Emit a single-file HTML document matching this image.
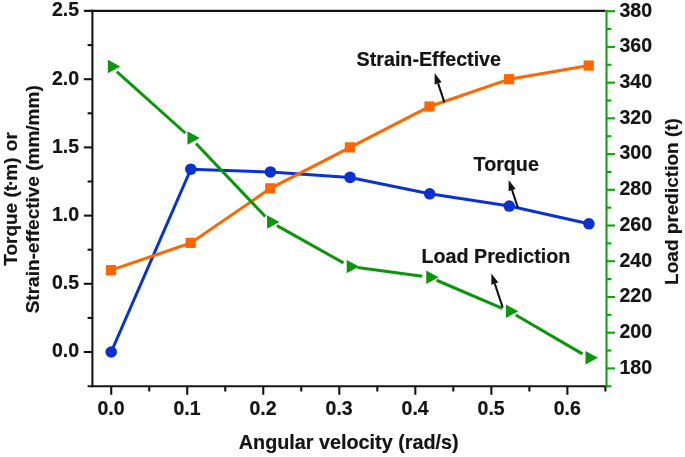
<!DOCTYPE html>
<html><head><meta charset="utf-8"><title>Chart</title>
<style>html,body{margin:0;padding:0;background:#fff;overflow:hidden}svg{display:block;will-change:transform}</style></head>
<body>
<svg width="685" height="457" viewBox="0 0 685 457" font-family="'Liberation Sans', sans-serif" font-weight="bold" font-size="19.5px">
<rect width="685" height="457" fill="#fff"/>
<g stroke="#141414" stroke-width="2.1" fill="none" stroke-linecap="butt">
<path d="M92.4 9.85 V387.25"/>
<path d="M83.8 10.9 H605.45"/>
<path d="M87.6 386.2 H607.55"/>
<path d="M83.8 352.00 H92.4"/>
<path d="M83.8 283.80 H92.4"/>
<path d="M83.8 215.60 H92.4"/>
<path d="M83.8 147.40 H92.4"/>
<path d="M83.8 79.20 H92.4"/>
<path d="M87.6 317.90 H92.4"/>
<path d="M87.6 249.70 H92.4"/>
<path d="M87.6 181.50 H92.4"/>
<path d="M87.6 113.30 H92.4"/>
<path d="M87.6 45.10 H92.4"/>
<path d="M111.20 386.2 V394.8"/>
<path d="M187.23 386.2 V394.8"/>
<path d="M263.26 386.2 V394.8"/>
<path d="M339.29 386.2 V394.8"/>
<path d="M415.32 386.2 V394.8"/>
<path d="M491.35 386.2 V394.8"/>
<path d="M567.38 386.2 V394.8"/>
<path d="M149.22 386.2 V391.5"/>
<path d="M225.25 386.2 V391.5"/>
<path d="M301.27 386.2 V391.5"/>
<path d="M377.30 386.2 V391.5"/>
<path d="M453.33 386.2 V391.5"/>
<path d="M529.37 386.2 V391.5"/>
<path d="M605.39 386.2 V391.5"/>
</g>
<g stroke="#10a010" stroke-width="2.1" fill="none">
<path d="M606.5 9.85 V387.25"/>
<path d="M606.5 368.40 H615.1"/>
<path d="M606.5 332.68 H615.1"/>
<path d="M606.5 296.96 H615.1"/>
<path d="M606.5 261.24 H615.1"/>
<path d="M606.5 225.52 H615.1"/>
<path d="M606.5 189.80 H615.1"/>
<path d="M606.5 154.08 H615.1"/>
<path d="M606.5 118.36 H615.1"/>
<path d="M606.5 82.64 H615.1"/>
<path d="M606.5 46.92 H615.1"/>
<path d="M606.5 11.20 H615.1"/>
<path d="M606.5 386.26 H611.4"/>
<path d="M606.5 350.54 H611.4"/>
<path d="M606.5 314.82 H611.4"/>
<path d="M606.5 279.10 H611.4"/>
<path d="M606.5 243.38 H611.4"/>
<path d="M606.5 207.66 H611.4"/>
<path d="M606.5 171.94 H611.4"/>
<path d="M606.5 136.22 H611.4"/>
<path d="M606.5 100.50 H611.4"/>
<path d="M606.5 64.78 H611.4"/>
<path d="M606.5 29.06 H611.4"/>
</g>
<g fill="#141414" stroke="#141414" stroke-width="0.2" stroke-linejoin="round">
<text x="79.0" y="357.40" text-anchor="end">0.0</text>
<text x="79.0" y="289.20" text-anchor="end">0.5</text>
<text x="79.0" y="221.00" text-anchor="end">1.0</text>
<text x="79.0" y="152.80" text-anchor="end">1.5</text>
<text x="79.0" y="84.60" text-anchor="end">2.0</text>
<text x="79.0" y="16.40" text-anchor="end">2.5</text>
<text x="111.00" y="414.6" text-anchor="middle">0.0</text>
<text x="187.03" y="414.6" text-anchor="middle">0.1</text>
<text x="263.06" y="414.6" text-anchor="middle">0.2</text>
<text x="339.09" y="414.6" text-anchor="middle">0.3</text>
<text x="415.12" y="414.6" text-anchor="middle">0.4</text>
<text x="491.15" y="414.6" text-anchor="middle">0.5</text>
<text x="567.18" y="414.6" text-anchor="middle">0.6</text>
<text x="619.5" y="373.70">180</text>
<text x="619.5" y="337.98">200</text>
<text x="619.5" y="302.26">220</text>
<text x="619.5" y="266.54">240</text>
<text x="619.5" y="230.82">260</text>
<text x="619.5" y="195.10">280</text>
<text x="619.5" y="159.38">300</text>
<text x="619.5" y="123.66">320</text>
<text x="619.5" y="87.94">340</text>
<text x="619.5" y="52.22">360</text>
<text x="619.5" y="16.50">380</text>
<text x="238.8" y="449.3" font-size="19.8px">Angular velocity (rad/s)</text>
<text transform="translate(16.8 265.8) rotate(-90)" font-size="19.0px">Torque (t<tspan dx="-1.05">·</tspan><tspan dx="-1.05">m)</tspan><tspan dx="1.0"> or</tspan></text>
<text transform="translate(39.4 199.3) rotate(-90)" text-anchor="middle" font-size="19.0px">Strain-effective (mm/mm)</text>
<text transform="translate(678 201.5) rotate(-90)" text-anchor="middle" font-size="19.0px">Load prediction (t)</text>
<text x="356.6" y="65.5" font-size="19.7px">Strain-Effective</text>
<text x="473.6" y="170.7" font-size="19.7px">Torque</text>
<text x="421.5" y="262.9" font-size="19.7px">Load Prediction</text>
</g>
<polyline fill="none" stroke="#0a32d2" stroke-width="3.0" points="111.20,352.00 190.82,169.22 270.44,171.95 350.06,177.41 429.67,193.78 509.29,206.05 588.91,223.78"/>
<circle cx="111.20" cy="352.00" r="5.8" fill="#0a32d2"/>
<circle cx="190.82" cy="169.22" r="5.8" fill="#0a32d2"/>
<circle cx="270.44" cy="171.95" r="5.8" fill="#0a32d2"/>
<circle cx="350.06" cy="177.41" r="5.8" fill="#0a32d2"/>
<circle cx="429.67" cy="193.78" r="5.8" fill="#0a32d2"/>
<circle cx="509.29" cy="206.05" r="5.8" fill="#0a32d2"/>
<circle cx="588.91" cy="223.78" r="5.8" fill="#0a32d2"/>
<polyline fill="none" stroke="#ff6600" stroke-width="3.0" points="111.20,270.16 190.82,242.88 270.44,188.32 350.06,147.40 429.67,106.48 509.29,79.20 588.91,65.56"/>
<rect x="105.90" y="265.06" width="10.2" height="10.2" fill="#ff6600"/>
<rect x="185.52" y="237.78" width="10.2" height="10.2" fill="#ff6600"/>
<rect x="265.14" y="183.22" width="10.2" height="10.2" fill="#ff6600"/>
<rect x="344.76" y="142.30" width="10.2" height="10.2" fill="#ff6600"/>
<rect x="424.37" y="101.38" width="10.2" height="10.2" fill="#ff6600"/>
<rect x="503.99" y="74.10" width="10.2" height="10.2" fill="#ff6600"/>
<rect x="583.61" y="60.46" width="10.2" height="10.2" fill="#ff6600"/>
<path d="M116.78 71.57 L185.24 133.00" stroke="#0a960a" stroke-width="3.0" fill="none"/>
<path d="M195.98 143.45 L265.28 216.51" stroke="#0a960a" stroke-width="3.0" fill="none"/>
<path d="M276.98 225.62 L343.51 262.93" stroke="#0a960a" stroke-width="3.0" fill="none"/>
<path d="M357.49 267.60 L422.24 276.31" stroke="#0a960a" stroke-width="3.0" fill="none"/>
<path d="M436.57 280.25 L502.39 308.31" stroke="#0a960a" stroke-width="3.0" fill="none"/>
<path d="M515.77 315.03 L582.43 353.91" stroke="#0a960a" stroke-width="3.0" fill="none"/>
<path d="M107.80 59.87 L120.20 66.57 L107.80 73.27 Z" fill="#0a960a"/>
<path d="M187.42 131.31 L199.82 138.01 L187.42 144.71 Z" fill="#0a960a"/>
<path d="M267.04 215.25 L279.44 221.95 L267.04 228.65 Z" fill="#0a960a"/>
<path d="M346.66 259.90 L359.06 266.60 L346.66 273.30 Z" fill="#0a960a"/>
<path d="M426.27 270.61 L438.67 277.31 L426.27 284.01 Z" fill="#0a960a"/>
<path d="M505.89 304.55 L518.29 311.25 L505.89 317.95 Z" fill="#0a960a"/>
<path d="M585.51 350.98 L597.91 357.68 L585.51 364.38 Z" fill="#0a960a"/>
<path d="M444.40 102.30 L438.10 83.35" stroke="#141414" stroke-width="2.1" fill="none"/>
<path d="M434.70 73.10 L441.62 82.18 L434.59 84.52 Z" fill="#141414"/>
<path d="M518.00 208.00 L512.09 190.15" stroke="#141414" stroke-width="2.1" fill="none"/>
<path d="M508.70 179.90 L515.61 188.99 L508.58 191.32 Z" fill="#141414"/>
<path d="M502.70 307.50 L494.80 283.65" stroke="#141414" stroke-width="2.1" fill="none"/>
<path d="M491.40 273.40 L498.31 282.49 L491.29 284.82 Z" fill="#141414"/>
</svg>
</body></html>
